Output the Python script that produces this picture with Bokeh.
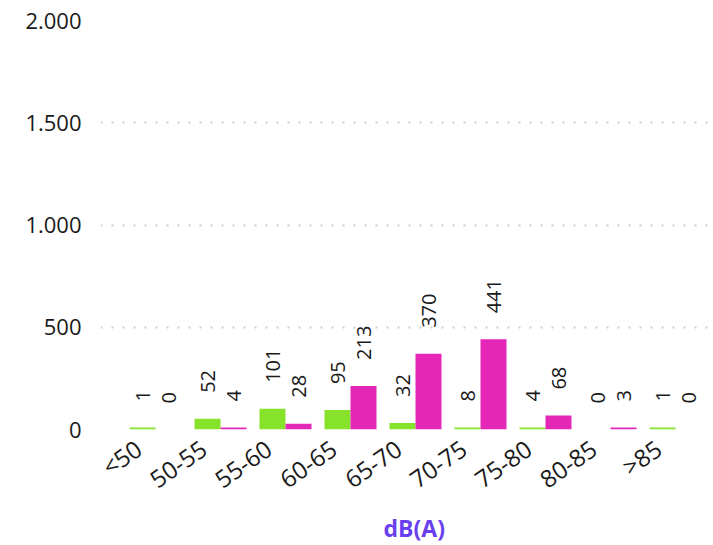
import numpy as np
from bokeh.plotting import figure
from bokeh.models import ColumnDataSource, Range1d, FixedTicker, Title
from bokeh.embed import file_html
from bokeh.resources import INLINE
from bokeh.core.properties import value

# ---- data ----
categories = ["<50", "50-55", "55-60", "60-65", "65-70", "70-75", "75-80", "80-85", ">85"]
series_green = [1, 52, 101, 95, 32, 8, 4, 0, 1]
series_pink = [0, 4, 28, 213, 370, 441, 68, 3, 0]
y_ticks = [0, 500, 1000, 1500, 2000]
y_tick_labels = ["0", "500", "1.000", "1.500", "2.000"]
x_title = "dB(A)"

GREEN = "#86e22a"
PINK = "#e527b8"
PURPLE = "#6a3ff0"
FONT = "Open Sans"
MIN_VISIBLE = 10      # tiny non-zero bars get a minimal visible height
LABEL_SHIFT = -0.26   # rotated category labels sit slightly left of the group centre

idx = np.arange(len(categories))


def make_source(vals, dodge):
    vals = np.array(vals, dtype=float)
    shown = np.where((vals > 0) & (vals < MIN_VISIBLE), MIN_VISIBLE, vals)
    return ColumnDataSource(dict(
        x=idx + dodge,
        top=shown,
        label=[str(int(v)) for v in vals],
    ))


src_g = make_source(series_green, -0.2)
src_p = make_source(series_pink, 0.2)

p = figure(
    width=713, height=545,
    output_backend="svg", toolbar_location=None,
    x_range=Range1d(-55 / 65, 558 / 65),
    y_range=Range1d(y_ticks[0], y_ticks[-1]),
    min_border_left=100, min_border_right=0, min_border_top=20, min_border_bottom=115,
)
p.outline_line_color = None
p.background_fill_color = "white"
p.border_fill_color = "white"

p.vbar(x="x", top="top", width=0.4, bottom=0, source=src_g, fill_color=GREEN, line_color=None)
p.vbar(x="x", top="top", width=0.4, bottom=0, source=src_p, fill_color=PINK, line_color=None)

for src in (src_g, src_p):
    p.text(x="x", y="top", text="label", source=src, angle=np.pi / 2,
           text_align="left", text_baseline="middle", y_offset=-26,
           text_font=value(FONT), text_font_size="20px", text_color="#1a1a1a")

# axes
p.xgrid.grid_line_color = None
p.ygrid.grid_line_color = "#cfcfcf"
p.ygrid.grid_line_width = 2
p.ygrid.grid_line_dash = "2 9"

p.yaxis.ticker = FixedTicker(ticks=y_ticks)
p.yaxis.major_label_overrides = {t: l for t, l in zip(y_ticks, y_tick_labels)}
tick_pos = [float(i + LABEL_SHIFT) for i in idx]
p.xaxis.ticker = FixedTicker(ticks=tick_pos)
p.xaxis.major_label_overrides = {t: c for t, c in zip(tick_pos, categories)}
p.xaxis.major_label_orientation = 0.61

for ax in (p.xaxis, p.yaxis):
    ax.axis_line_color = None
    ax.major_tick_line_color = None
    ax.minor_tick_line_color = None
    ax.major_tick_out = 0
    ax.major_tick_in = 0
    ax.major_label_text_font = FONT
    ax.major_label_text_color = "#1a1a1a"
p.yaxis.major_label_text_font_size = "22px"
p.xaxis.major_label_text_font_size = "24px"
p.yaxis.major_label_standoff = 19
p.xaxis.major_label_standoff = 16

title = Title(text=x_title, align="left", vertical_align="top", offset=283, standoff=0,
              text_font=FONT, text_font_size="23px", text_font_style="bold",
              text_color=PURPLE)
p.add_layout(title, "below")

open("out.html", "w").write(file_html(p, INLINE))
